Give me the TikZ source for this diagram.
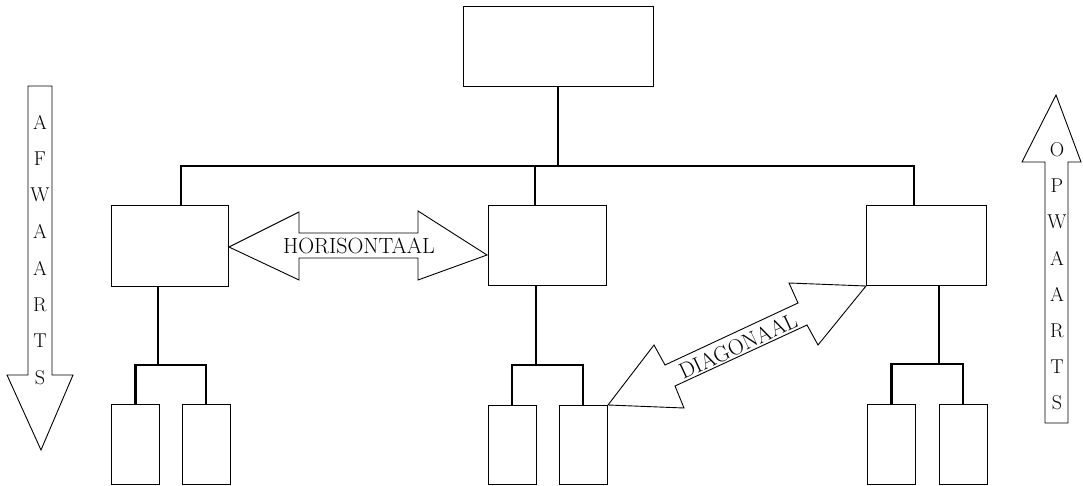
\documentclass[tikz,border=0pt]{standalone}
\usepackage{tikz}

\tikzstyle{unit} = [rectangle, 
draw=black, 
line width=1pt, 
inner sep=0pt]
\tikzstyle{bigunit} = [unit, 
minimum width=118pt, 
minimum height=80pt]
\tikzstyle{subunit} = [unit, 
minimum width=48pt, 
minimum height=80pt]
\tikzstyle{link} = [line width=1.8pt]
\tikzstyle{fork} = [line width=2.4pt, line join=miter]
\tikzstyle{flow} = [draw=black, line width=0.9pt, line join=miter, fill=white]
\tikzstyle{flowtext} = [font=\fontsize{22}{26}\selectfont, inner sep=0pt]
\tikzstyle{letter} = [font=\fontsize{20}{24}\selectfont, inner sep=0pt]

\begin{document}
\begin{tikzpicture}[x=1pt, y=-1pt]
\useasboundingbox (0,0) rectangle (1083,486);

% organisation chart
\node (head) [unit, minimum width=190pt, minimum height=80pt] at (558,47) {};
\node (left) [bigunit, minimum width=117pt] at (169.5,246) {};
\node (mid) [bigunit, minimum height=79pt] at (547,245.5) {};
\node (right) [bigunit, minimum width=120pt, minimum height=79pt] at (926,245.5) {};
\node (left1) [subunit] at (135.5,444) {};
\node (left2) [subunit] at (206,444) {};
\node (mid1) [subunit, minimum height=79pt] at (512,444.5) {};
\node (mid2) [subunit, minimum height=79pt] at (583,444.5) {};
\node (right1) [subunit] at (891.5,444) {};
\node (right2) [subunit] at (963,444) {};

\coordinate (bus) at (558,166);
\coordinate (lfork) at (158,365);
\coordinate (mfork) at (536,365);
\coordinate (rfork) at (939,364);

\draw [link] (head.south) -- (bus);
\draw [link] ([xshift=11.5pt]left.north) |- (bus) -| ([xshift=-12pt]right.north);
\draw [link] ([xshift=-12pt]mid.north) |- (bus);

\draw [link] (left.south -| lfork) -- (lfork);
\draw [link] (mid.south -| mfork) -- (mfork);
\draw [link] (right.south -| rfork) -- (rfork);
\draw [fork] (left1.north) |- (lfork) -| (left2.north);
\draw [fork] (mid1.north) |- (mfork) -| (mid2.north);
\draw [fork] (right1.north) |- (rfork) -| (right2.north);

% horizontal
\draw [flow] (229,247) -- (299,212) -- (299,233) -- (418,233) -- (418,211) -- (487,255)
  -- (418,280) -- (418,258) -- (299,258) -- (299,280) -- cycle;
\node (hor) [flowtext] at (359,246) {HORISONTAAL};

% diagonal
\draw [flow] (608,405) -- (654,345) -- (665,365) -- (798,303) -- (789,283) -- (866,286)
  -- (818,345) -- (807,325) -- (675,386) -- (684,408) -- cycle;
\node (diag) [flowtext, rotate=25] at (738,346) {DIAGONAAL};

% downwards
\draw [flow] (28,86) -- (52,86) -- (52,375) -- (73,375) -- (41,450) -- (7,375) -- (28,375) -- cycle;
\foreach \ch [count=\i from 0] in {A,F,W,A,A,R,T,S}
  \node (down\i) [letter] at (40,{122+36.5*\i}) {\ch};

% upwards
\draw [flow] (1045,423) -- (1045,162) -- (1022,162) -- (1056,95) -- (1081,162) -- (1068,162) -- (1068,423) -- cycle;
\foreach \ch [count=\i from 0] in {O,P,W,A,A,R,T,S}
  \node (up\i) [letter] at (1057,{150+36.1*\i}) {\ch};

\end{tikzpicture}
\end{document}
